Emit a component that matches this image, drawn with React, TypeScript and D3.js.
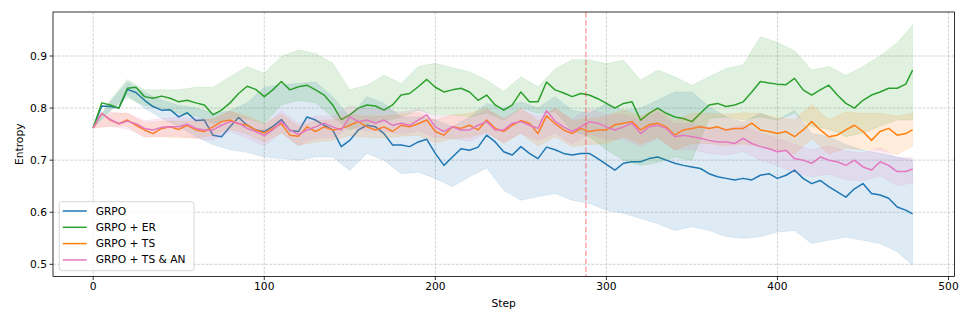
import React from "react";
import * as d3 from "d3";

const meanSteps = [
  0, 5, 10, 15, 20, 25, 30, 35, 40, 45, 50, 55, 60, 65, 70, 75, 80, 85, 90, 95,
  100, 105, 110, 115, 120, 125, 130, 135, 140, 145, 150, 155, 160, 165, 170, 175, 180, 185, 190, 195,
  200, 205, 210, 215, 220, 225, 230, 235, 240, 245, 250, 255, 260, 265, 270, 275, 280, 285, 290, 295,
  300, 305, 310, 315, 320, 325, 330, 335, 340, 345, 350, 355, 360, 365, 370, 375, 380, 385, 390, 395,
  400, 405, 410, 415, 420, 425, 430, 435, 440, 445, 450, 455, 460, 465, 470, 475, 479,
];

const bandSteps = [
  0, 10, 20, 30, 40, 50, 60, 70, 80, 90, 100, 110, 120, 130, 140, 150, 160, 170, 180, 190,
  200, 210, 220, 230, 240, 250, 260, 270, 280, 290, 300, 310, 320, 330, 340, 350, 360, 370, 380, 390,
  400, 410, 420, 430, 440, 450, 460, 470, 479,
];

const grpoMean = [
  0.762, 0.804, 0.803, 0.8, 0.836, 0.83, 0.815, 0.803, 0.796, 0.797,
  0.783, 0.791, 0.776, 0.777, 0.748, 0.745, 0.764, 0.782, 0.767, 0.758,
  0.755, 0.765, 0.778, 0.757, 0.755, 0.783, 0.777, 0.767, 0.758, 0.726,
  0.738, 0.758, 0.767, 0.764, 0.751, 0.729, 0.729, 0.726, 0.735, 0.74,
  0.713, 0.69, 0.706, 0.722, 0.719, 0.725, 0.748, 0.735, 0.716, 0.71,
  0.726, 0.713, 0.703, 0.725, 0.72, 0.713, 0.71, 0.713, 0.713, 0.703,
  0.692, 0.681, 0.694, 0.697, 0.697, 0.703, 0.706, 0.7, 0.694, 0.69,
  0.687, 0.684, 0.674, 0.668, 0.665, 0.662, 0.665, 0.662, 0.671, 0.674,
  0.665, 0.671, 0.681, 0.665, 0.655, 0.661, 0.649, 0.639, 0.629, 0.645,
  0.655, 0.636, 0.633, 0.627, 0.61, 0.604, 0.597,
];
const erMean = [
  0.762, 0.81, 0.806, 0.8, 0.838, 0.84, 0.822, 0.819, 0.823, 0.819,
  0.812, 0.815, 0.81, 0.806, 0.787, 0.796, 0.81, 0.828, 0.842, 0.836,
  0.822, 0.835, 0.851, 0.835, 0.841, 0.844, 0.835, 0.825, 0.806, 0.778,
  0.787, 0.8, 0.806, 0.804, 0.796, 0.806, 0.825, 0.828, 0.841, 0.855,
  0.84, 0.831, 0.835, 0.838, 0.831, 0.815, 0.825, 0.806, 0.796, 0.806,
  0.831, 0.812, 0.812, 0.85, 0.835, 0.829, 0.822, 0.828, 0.825, 0.818,
  0.809, 0.8, 0.809, 0.812, 0.777, 0.79, 0.8, 0.79, 0.783, 0.78,
  0.774, 0.79, 0.806, 0.809, 0.803, 0.806, 0.812, 0.831, 0.851, 0.848,
  0.846, 0.845, 0.857, 0.835, 0.825, 0.835, 0.844, 0.825, 0.809, 0.8,
  0.815, 0.825, 0.831, 0.838, 0.838, 0.846, 0.873,
];
const tsMean = [
  0.762, 0.79, 0.777, 0.77, 0.777, 0.767, 0.758, 0.751, 0.761, 0.764,
  0.759, 0.767, 0.758, 0.755, 0.764, 0.774, 0.777, 0.77, 0.767, 0.758,
  0.752, 0.761, 0.77, 0.748, 0.746, 0.764, 0.755, 0.764, 0.758, 0.761,
  0.767, 0.774, 0.764, 0.758, 0.764, 0.755, 0.767, 0.764, 0.77, 0.777,
  0.755, 0.748, 0.764, 0.761, 0.767, 0.758, 0.777, 0.761, 0.755, 0.767,
  0.776, 0.771, 0.751, 0.785, 0.77, 0.758, 0.751, 0.761, 0.755, 0.758,
  0.758, 0.768, 0.771, 0.774, 0.758, 0.768, 0.771, 0.764, 0.748, 0.758,
  0.761, 0.764, 0.761, 0.764, 0.758, 0.761, 0.761, 0.771, 0.758, 0.755,
  0.751, 0.755, 0.745, 0.758, 0.774, 0.758, 0.745, 0.748, 0.758, 0.767,
  0.755, 0.738, 0.755, 0.761, 0.748, 0.751, 0.758,
];
const tsAnMean = [
  0.762, 0.79, 0.778, 0.77, 0.775, 0.77, 0.761, 0.758, 0.763, 0.764,
  0.764, 0.769, 0.761, 0.758, 0.758, 0.767, 0.774, 0.771, 0.761, 0.755,
  0.747, 0.758, 0.774, 0.758, 0.749, 0.758, 0.764, 0.771, 0.764, 0.758,
  0.783, 0.774, 0.777, 0.771, 0.777, 0.767, 0.771, 0.767, 0.777, 0.787,
  0.764, 0.755, 0.764, 0.758, 0.758, 0.767, 0.774, 0.758, 0.758, 0.771,
  0.774, 0.767, 0.761, 0.795, 0.775, 0.764, 0.755, 0.764, 0.774, 0.771,
  0.764, 0.758, 0.764, 0.771, 0.751, 0.764, 0.767, 0.761, 0.745, 0.748,
  0.745, 0.742, 0.738, 0.735, 0.735, 0.732, 0.742, 0.732, 0.726, 0.722,
  0.716, 0.719, 0.703, 0.7, 0.694, 0.706, 0.7, 0.697, 0.69, 0.7,
  0.687, 0.681, 0.697, 0.69, 0.678, 0.678, 0.683,
];

const grpoUpper = [
  0.762, 0.812, 0.85, 0.83, 0.815, 0.805, 0.8, 0.79, 0.795, 0.81,
  0.84, 0.845, 0.847, 0.85, 0.822, 0.783, 0.822, 0.809, 0.783, 0.783,
  0.777, 0.764, 0.783, 0.809, 0.8, 0.812, 0.8, 0.822, 0.796, 0.79,
  0.809, 0.796, 0.8, 0.815, 0.831, 0.831, 0.803, 0.783, 0.773, 0.79,
  0.777, 0.796, 0.751, 0.745, 0.73, 0.719, 0.713, 0.706, 0.7,
];
const grpoLower = [
  0.762, 0.795, 0.825, 0.8, 0.78, 0.765, 0.745, 0.73, 0.72, 0.715,
  0.706, 0.703, 0.7, 0.706, 0.706, 0.68, 0.713, 0.7, 0.674, 0.677,
  0.665, 0.649, 0.668, 0.685, 0.642, 0.623, 0.63, 0.636, 0.623, 0.617,
  0.604, 0.598, 0.588, 0.578, 0.565, 0.572, 0.565, 0.553, 0.55, 0.553,
  0.562, 0.565, 0.54, 0.546, 0.552, 0.546, 0.54, 0.524, 0.498,
];
const erUpper = [
  0.762, 0.815, 0.855, 0.835, 0.835, 0.835, 0.84, 0.84, 0.86, 0.88,
  0.867, 0.899, 0.912, 0.905, 0.886, 0.835, 0.844, 0.863, 0.847, 0.88,
  0.886, 0.877, 0.87, 0.854, 0.832, 0.86, 0.841, 0.875, 0.893, 0.893,
  0.885, 0.892, 0.854, 0.873, 0.86, 0.844, 0.86, 0.876, 0.883, 0.937,
  0.926, 0.91, 0.873, 0.88, 0.863, 0.88, 0.9, 0.925, 0.96,
];
const erLower = [
  0.762, 0.795, 0.82, 0.805, 0.8, 0.79, 0.785, 0.77, 0.78, 0.78,
  0.77, 0.806, 0.815, 0.81, 0.783, 0.758, 0.77, 0.775, 0.783, 0.796,
  0.787, 0.787, 0.783, 0.79, 0.777, 0.8, 0.79, 0.793, 0.757, 0.745,
  0.72, 0.7, 0.69, 0.695, 0.706, 0.7, 0.78, 0.783, 0.777, 0.783,
  0.777, 0.79, 0.764, 0.76, 0.745, 0.752, 0.765, 0.777, 0.777,
];
const tsUpper = [
  0.762, 0.79, 0.79, 0.772, 0.775, 0.775, 0.775, 0.78, 0.795, 0.785,
  0.77, 0.788, 0.765, 0.775, 0.778, 0.787, 0.785, 0.785, 0.788, 0.792,
  0.777, 0.787, 0.79, 0.8, 0.778, 0.8, 0.775, 0.8, 0.776, 0.78,
  0.784, 0.797, 0.785, 0.798, 0.776, 0.79, 0.79, 0.788, 0.791, 0.79,
  0.782, 0.778, 0.807, 0.778, 0.793, 0.79, 0.79, 0.785, 0.79,
];
const tsLower = [
  0.762, 0.765, 0.765, 0.744, 0.745, 0.743, 0.742, 0.748, 0.76, 0.75,
  0.735, 0.752, 0.728, 0.735, 0.738, 0.747, 0.744, 0.743, 0.746, 0.748,
  0.733, 0.741, 0.744, 0.754, 0.732, 0.752, 0.727, 0.745, 0.726, 0.73,
  0.732, 0.745, 0.731, 0.744, 0.72, 0.732, 0.732, 0.728, 0.731, 0.726,
  0.72, 0.712, 0.741, 0.712, 0.723, 0.72, 0.72, 0.711, 0.727,
];
const tsAnUpper = [
  0.762, 0.792, 0.79, 0.776, 0.78, 0.782, 0.78, 0.778, 0.793, 0.78,
  0.767, 0.795, 0.77, 0.785, 0.785, 0.804, 0.798, 0.798, 0.792, 0.798,
  0.785, 0.786, 0.78, 0.797, 0.781, 0.797, 0.784, 0.8, 0.779, 0.798,
  0.788, 0.788, 0.776, 0.792, 0.77, 0.77, 0.763, 0.76, 0.767, 0.752,
  0.742, 0.73, 0.72, 0.727, 0.717, 0.714, 0.724, 0.705, 0.705,
];
const tsAnLower = [
  0.762, 0.765, 0.76, 0.745, 0.746, 0.746, 0.742, 0.738, 0.755, 0.742,
  0.727, 0.753, 0.728, 0.743, 0.743, 0.762, 0.756, 0.756, 0.75, 0.756,
  0.743, 0.742, 0.736, 0.751, 0.735, 0.751, 0.738, 0.752, 0.731, 0.75,
  0.74, 0.74, 0.726, 0.742, 0.72, 0.72, 0.713, 0.71, 0.717, 0.7,
  0.69, 0.676, 0.668, 0.673, 0.663, 0.66, 0.67, 0.651, 0.656,
];

const seriesNames = ["GRPO", "GRPO + ER", "GRPO + TS", "GRPO + TS & AN"];
const seriesColors = ["#1f77b4", "#2ca02c", "#ff7f0e", "#e377c2"];
const xTicks = [0, 100, 200, 300, 400, 500];
const yTicks = [0.5, 0.6, 0.7, 0.8, 0.9];
const markerStep = 288;

const W = 972;
const H = 324;
const FONT = "DejaVu Sans, sans-serif";
const FS = 10.67;

export default function App() {
  const x = d3.scaleLinear().domain([-23.5, 503.5]).range([53, 954.5]);
  const y = d3.scaleLinear().domain([0.4766, 0.9845]).range([276.5, 12]);

  const series = [
    { mean: grpoMean, up: grpoUpper, lo: grpoLower },
    { mean: erMean, up: erUpper, lo: erLower },
    { mean: tsMean, up: tsUpper, lo: tsLower },
    { mean: tsAnMean, up: tsAnUpper, lo: tsAnLower },
  ];

  const line = d3
    .line<number>()
    .x((_, i) => x(meanSteps[i]))
    .y((d) => y(d));

  const area = (up: number[], lo: number[]) =>
    d3
      .area<number>()
      .x((_, i) => x(bandSteps[i]))
      .y0((_, i) => y(lo[i]))
      .y1((_, i) => y(up[i]))(up) || "";

  const [x0, x1] = x.range();
  const [yb, yt] = y.range();

  const legendRows = seriesNames.map((n, i) => ({ n, c: seriesColors[i], yy: 211 + i * 16.3 }));

  return (
    <svg
      width={W}
      height={H}
      style={{ position: "absolute", left: 0, top: 0, background: "#fff" }}
      fontFamily={FONT}
    >
      <defs>
        <clipPath id="plot">
          <rect x={x0} y={yt} width={x1 - x0} height={yb - yt} />
        </clipPath>
      </defs>
      <rect x={0} y={0} width={W} height={H} fill="#fff" />
      {/* grid */}
      <g stroke="#b0b0b0" strokeOpacity={0.7} strokeWidth={0.8} strokeDasharray="2.96,1.28">
        {xTicks.map((t) => (
          <line key={"gx" + t} x1={x(t)} x2={x(t)} y1={yt} y2={yb} />
        ))}
        {yTicks.map((t) => (
          <line key={"gy" + t} x1={x0} x2={x1} y1={y(t)} y2={y(t)} />
        ))}
      </g>
      <g clipPath="url(#plot)">
        {series.map((s, i) => (
          <g key={"s" + i}>
            <path d={area(s.up, s.lo)} fill={seriesColors[i]} fillOpacity={0.15} stroke={seriesColors[i]} strokeOpacity={0.12} strokeWidth={0.8} />
            <path d={line(s.mean) || ""} fill="none" stroke={seriesColors[i]} strokeWidth={1.5} strokeLinejoin="round" />
          </g>
        ))}
        <line
          x1={x(markerStep)}
          x2={x(markerStep)}
          y1={yt}
          y2={yb}
          stroke="red"
          strokeOpacity={0.35}
          strokeWidth={1.5}
          strokeDasharray="5.55,2.4"
        />
      </g>
      {/* spines */}
      <rect x={x0} y={yt} width={x1 - x0} height={yb - yt} fill="none" stroke="#000" strokeWidth={0.8} />
      {/* x ticks */}
      <g fontSize={FS} fill="#000">
        {xTicks.map((t) => (
          <g key={"xt" + t}>
            <line x1={x(t)} x2={x(t)} y1={yb} y2={yb + 3.5} stroke="#000" strokeWidth={0.8} />
            <text x={x(t)} y={yb + 5.5} textAnchor="middle" dominantBaseline="hanging">
              {t}
            </text>
          </g>
        ))}
        {yTicks.map((t) => (
          <g key={"yt" + t}>
            <line x1={x0 - 3.5} x2={x0} y1={y(t)} y2={y(t)} stroke="#000" strokeWidth={0.8} />
            <text x={x0 - 6} y={y(t)} textAnchor="end" dominantBaseline="central">
              {t.toFixed(1)}
            </text>
          </g>
        ))}
        <text x={(x0 + x1) / 2} y={307} textAnchor="middle">
          Step
        </text>
        <text transform={`translate(19,${(yt + yb) / 2}) rotate(-90)`} textAnchor="middle" dominantBaseline="central">
          Entropy
        </text>
      </g>
      {/* legend */}
      <g>
        <rect x={59.3} y={201.7} width={134.7} height={69} rx={2.5} fill="#fff" fillOpacity={0.8} stroke="#cccccc" strokeWidth={0.8} />
        {legendRows.map((r) => (
          <g key={r.n}>
            <line x1={62.7} x2={86.7} y1={r.yy} y2={r.yy} stroke={r.c} strokeWidth={1.5} />
            <text x={95.7} y={r.yy} fontSize={FS} dominantBaseline="central" fill="#000">
              {r.n}
            </text>
          </g>
        ))}
      </g>
    </svg>
  );
}
